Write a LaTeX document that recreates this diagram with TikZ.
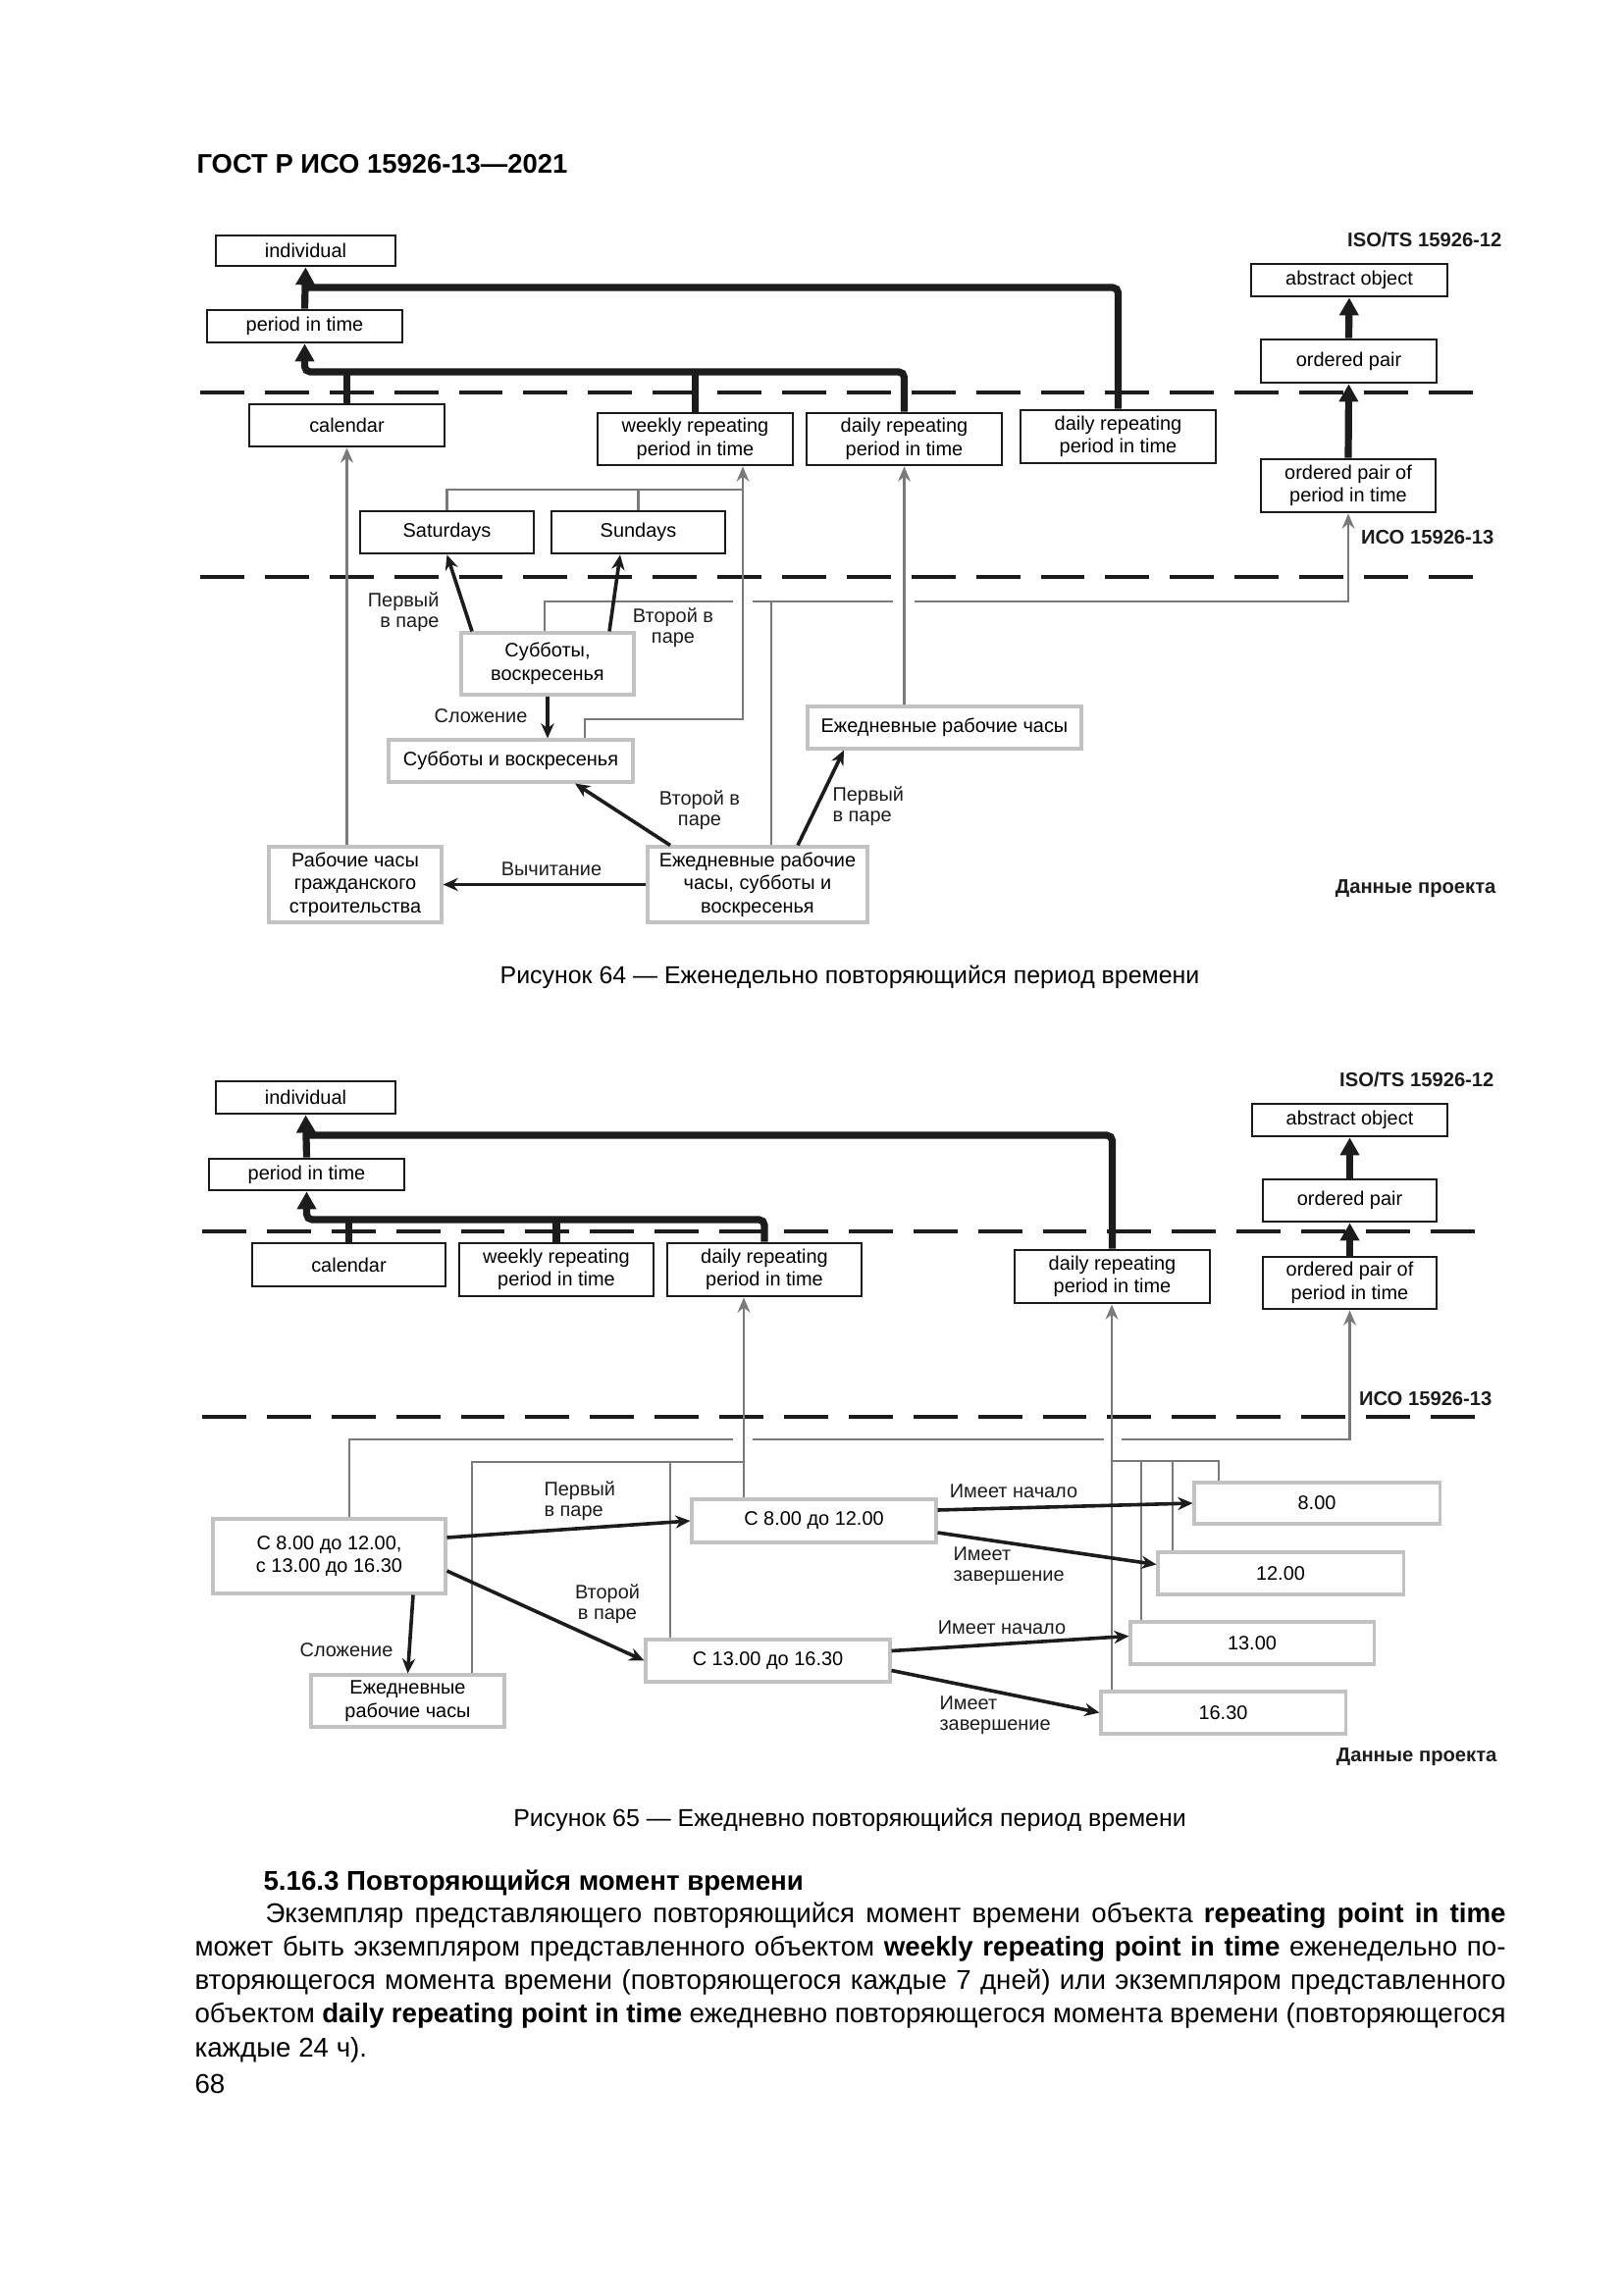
\documentclass[tikz,border=0pt]{standalone}
\usepackage{fontspec}
\setmainfont{Liberation Sans}
\usetikzlibrary{arrows.meta,calc}
\newlength\pxl
\setlength{\pxl}{0.12696mm}
\definecolor{dk}{HTML}{1C1C1C}
\definecolor{mgray}{HTML}{7A7A7A}
\definecolor{lgray}{HTML}{C2C2C2}
\newcommand\dfont{\fontsize{7.2}{8.5}\selectfont}
\newcommand\lfont{\fontsize{7.2}{7.5}\selectfont}
\newcommand\isofont{\fontsize{7.3}{8}\selectfont\bfseries}
\newcommand\hdrfont{\fontsize{9.9}{12}\selectfont\bfseries}
\newcommand\capfont{\fontsize{9.0}{11}\selectfont}
\newcommand\bodyfont{\fontsize{10.0}{12}\selectfont}
\newcommand\jline[2]{\makebox[#1\pxl][s]{\spaceskip=0.2em plus 1em minus 0.05em\relax #2}}
\tikzset{
  sz/.style 2 args={minimum width=#1\pxl, minimum height=#2\pxl},
  bbox/.style={draw=dk, line width=1pt, inner sep=0pt, align=center, font=\dfont, fill=white},
  gbox/.style={draw=lgray, line width=1.1pt, inner sep=0pt, align=center, font=\dfont, fill=white},
  lbl/.style={inner sep=0pt, font=\lfont, text=dk},
  thk/.style={draw=dk, line width=2.6pt, rounded corners=2pt},
  thka/.style={thk, -{Triangle[length=6.5pt,width=6.8pt]}},
  gl/.style={draw=mgray, line width=1.05pt},
  gla/.style={gl, -{Stealth[length=5.5pt,width=4.6pt]}},
  ba/.style={draw=dk, line width=1.3pt, -{Stealth[length=5.5pt,width=4.8pt]}},
  dsh/.style={draw=dk, line width=1.6pt, dash pattern=on 16.2pt off 7.6pt},
  isolbl/.style={inner sep=0pt, font=\isofont, anchor=base east, text=dk},
  captxt/.style={inner sep=0pt, font=\capfont, anchor=base},
  bodytxt/.style={inner sep=0pt, font=\bodyfont, anchor=base west},
}
\begin{document}
\begin{tikzpicture}[x=\pxl, y=-\pxl]
\useasboundingbox (0,0) rectangle (1654,2339);
\fill[white] (0,0) rectangle (1654,2339);

% ---------- header
\node[inner sep=0pt, font=\hdrfont, anchor=base west] (hdr) at (200,177) {ГОСТ Р ИСО 15926-13—2021};

% ================= Figure 64
\draw[dsh] (204,400) -- (1516,400);
\draw[dsh] (204,588) -- (1516,588);

\node[bbox, sz={183}{31}] (ind) at (311.5,255.5) {individual};
\node[bbox, sz={199}{33}] (pit) at (310.5,332.5) {period in time};
\node[bbox, sz={199}{43}] (cal) at (353.5,433.5) {calendar};
\node[bbox, sz={199}{53}] (wk) at (708.5,447.5) {weekly repeating\\period in time};
\node[bbox, sz={199}{53}] (dr1) at (921.5,447.5) {daily repeating\\period in time};
\node[bbox, sz={199}{54}] (dr2) at (1139.5,445) {daily repeating\\period in time};
\node[bbox, sz={200}{33}] (ao) at (1375,285.5) {abstract object};
\node[bbox, sz={179}{44}] (op) at (1374.5,368) {ordered pair};
\node[bbox, sz={178}{54}] (opp) at (1374,495) {ordered pair of\\period in time};
\node[bbox, sz={177}{43}] (sat) at (455.5,542.5) {Saturdays};
\node[bbox, sz={177}{43}] (sun) at (650.5,542.5) {Sundays};
\node[gbox, sz={176}{63}] (ssc) at (558,676.5) {Субботы,\\воскресенья};
\node[gbox, sz={249}{43}] (siv) at (520.5,775.5) {Субботы и воскресенья};
\node[gbox, sz={279}{43}] (edrch) at (962.5,741.5) {Ежедневные рабочие часы};
\node[gbox, sz={224}{77}] (edrss) at (772,901.5) {Ежедневные рабочие\\часы, субботы и\\воскресенья};
\node[gbox, sz={176}{77}] (rab) at (362,901.5) {Рабочие часы\\гражданского\\строительства};

\node[isolbl] (iso1) at (1531,252) {ISO/TS 15926-12};
\node[isolbl] (iso2) at (1523,555) {ИСО 15926-13};
\node[isolbl] (dp1) at (1525,910) {Данные проекта};

\coordinate (jy1) at (0,293);
\coordinate (jy2) at (0,379);
\draw[thka] (pit.north) -- (ind.south);
\draw[thk] (dr2.north) |- (pit.north |- jy1);
\draw[thka] (dr1.north) |- (pit.south |- jy2) -- (pit.south);
\draw[thk] (cal.north) -- (cal.north |- jy2);
\draw[thk] (wk.north) -- (wk.north |- jy2);
\draw[thka] (opp.north) -- (op.south);
\draw[thka] (op.north) -- (ao.south);

% gray connectors
\coordinate (gy1) at (0,499);
\coordinate (gy2) at (0,613);
\coordinate (gy3) at (0,733);
\coordinate (gx1) at (757,0);
\draw[gl] (sat.north) |- (gx1 |- gy1);
\draw[gl] (sun.north) -- (sun.north |- gy1);
\coordinate (s5) at ($(ssc.north)+(-3,0)$);
\draw[gla] (s5) |- (opp.south |- gy2) -- (opp.south);
\coordinate (e6) at ($(edrss.north)+(14,0)$);
\draw[gl] (e6) -- (e6 |- gy2);
\fill[white] (747,607) rectangle (767,619);
\fill[white] (910,607) rectangle (932,619);
\coordinate (s3) at ($(siv.north)+(75.5,0)$);
\draw[gla] (s3) |- (gx1 |- gy3) -- (gx1 |- wk.south);
\draw[gla] (cal.south |- rab.north) -- (cal.south);
\draw[gla] (dr1.south |- edrch.north) -- (dr1.south);

% black arrows
\draw[ba] ($(ssc.north)+(-77,0)$) -- (sat.south);
\draw[ba] ($(ssc.north)+(63,0)$) -- ($(sun.south)+(-18.5,0)$);
\draw[ba] (ssc.south) -- (ssc.south |- siv.north);
\draw[ba] ($(edrss.north)+(-89,0)$) -- ($(siv.south)+(65.5,0)$);
\draw[ba] ($(edrss.north)+(41,0)$) -- ($(edrch.south)+(-102.5,0)$);
\draw[ba] (edrss.west) -- (rab.east);

\node[lbl, align=right, anchor=east] (l1) at (448,623.5) {Первый\\в паре};
\node[lbl, align=center] (l2) at (686,640) {Второй в\\паре};
\node[lbl] (l3) at (490,730) {Сложение};
\node[lbl, align=center] (l4) at (713,826) {Второй в\\паре};
\node[lbl, align=left, anchor=west] (l5) at (848,822) {Первый\\в паре};
\node[lbl] (l6) at (562,886) {Вычитание};

\node[captxt] (cap64) at (866,1002) {Рисунок 64 — Еженедельно повторяющийся период времени};

% ================= Figure 65
\draw[dsh] (206,1255) -- (1517,1255);
\draw[dsh] (206,1444) -- (1517,1444);

\node[bbox, sz={183}{33}] (ind2) at (311.5,1118.5) {individual};
\node[bbox, sz={199}{32}] (pit2) at (312.5,1197) {period in time};
\node[bbox, sz={197}{44}] (cal2) at (355.5,1289) {calendar};
\node[bbox, sz={198}{54}] (wk2) at (567,1294) {weekly repeating\\period in time};
\node[bbox, sz={198}{54}] (dr1b) at (779,1294) {daily repeating\\period in time};
\node[bbox, sz={199}{54}] (dr2b) at (1133.5,1301) {daily repeating\\period in time};
\node[bbox, sz={199}{33}] (ao2) at (1375.5,1141.5) {abstract object};
\node[bbox, sz={177}{43}] (op2) at (1375.5,1223.5) {ordered pair};
\node[bbox, sz={177}{53}] (opp2) at (1375.5,1307.5) {ordered pair of\\period in time};

\node[gbox, sz={237}{76}] (big) at (335.5,1586) {С 8.00 до 12.00,\\с 13.00 до 16.30};
\node[gbox, sz={249}{44}] (c812) at (829.5,1550) {С 8.00 до 12.00};
\node[gbox, sz={249}{43}] (c1316) at (782.5,1692.5) {С 13.00 до 16.30};
\node[gbox, sz={197}{53}] (erc) at (415.5,1733.5) {Ежедневные\\рабочие часы};
\node[gbox, sz={250}{42}] (t800) at (1342,1532) {8.00};
\node[gbox, sz={250}{43}] (t1200) at (1305,1603.5) {12.00};
\node[gbox, sz={248}{43}] (t1300) at (1276,1674.5) {13.00};
\node[gbox, sz={249}{43}] (t1630) at (1246.5,1745.5) {16.30};

\node[isolbl] (iso3) at (1523,1107) {ISO/TS 15926-12};
\node[isolbl] (iso4) at (1521,1432) {ИСО 15926-13};
\node[isolbl] (dp2) at (1526,1795) {Данные проекта};

\coordinate (jy3) at (0,1157);
\coordinate (jy4) at (0,1243);
\draw[thka] (pit2.north) -- (ind2.south);
\draw[thk] (dr2b.north) |- (pit2.north |- jy3);
\draw[thka] (dr1b.north) |- (pit2.south |- jy4) -- (pit2.south);
\draw[thk] (cal2.north) -- (cal2.north |- jy4);
\draw[thk] (wk2.north) -- (wk2.north |- jy4);
\draw[thka] (opp2.north) -- (op2.south);
\draw[thka] (op2.north) -- (ao2.south);

\coordinate (hy1) at (0,1467);
\coordinate (hy2) at (0,1490);
\coordinate (hy3) at (0,1489);
\coordinate (b1) at ($(big.north)+(20.5,0)$);
\draw[gla] (b1) |- (opp2.south |- hy1) -- (opp2.south);
\fill[white] (747,1461) rectangle (767,1473);
\fill[white] (1125,1461) rectangle (1143,1473);
\coordinate (c8) at ($(c812.north)+(-71.5,0)$);
\draw[gla] (c8) -- (c8 |- dr1b.south);
\coordinate (e1) at ($(erc.north)+(65.5,0)$);
\draw[gl] (e1) |- (c8 |- hy2);
\coordinate (e2) at ($(c1316.north)+(-99.5,0)$);
\draw[gl] (e2) -- (e2 |- hy2);
\coordinate (t16) at ($(t1630.north)+(-113.5,0)$);
\draw[gla] (t16) -- (t16 |- dr2b.south);
\coordinate (t8) at ($(t800.north)+(-100,0)$);
\draw[gl] (t8) |- (t16 |- hy3);
\coordinate (t13) at ($(t1300.north)+(-113,0)$);
\draw[gl] (t13) -- (t13 |- hy3);
\coordinate (t12) at ($(t1200.north)+(-110,0)$);
\draw[gl] (t12) -- (t12 |- hy3);

\draw[ba] ($(big.east)+(0,-19)$) -- (c812.west);
\draw[ba] ($(big.east)+(0,15)$) -- (c1316.west);
\draw[ba] ($(big.south)+(85.5,0)$) -- (erc.north);
\draw[ba] ($(c812.east)+(0,-11)$) -- (t800.west);
\draw[ba] ($(c812.east)+(0,12)$) -- ($(t1200.west)+(0,-9)$);
\draw[ba] ($(c1316.east)+(0,-10)$) -- ($(t1300.west)+(0,-7)$);
\draw[ba] ($(c1316.east)+(0,10)$) -- (t1630.west);

\node[lbl, align=left, anchor=west] (m1) at (554,1530) {Первый\\в паре};
\node[lbl, align=center] (m2) at (619,1635) {Второй\\в паре};
\node[lbl] (m3) at (353,1682) {Сложение};
\node[lbl] (m4) at (1033,1520) {Имеет начало};
\node[lbl, align=left, anchor=west] (m5) at (971,1596) {Имеет\\завершение};
\node[lbl] (m6) at (1021,1659) {Имеет начало};
\node[lbl, align=left, anchor=west] (m7) at (957,1748) {Имеет\\завершение};

\node[captxt] (cap65) at (866,1861) {Рисунок 65 — Ежедневно повторяющийся период времени};

% ================= text
\node[bodytxt, font=\bodyfont\bfseries] (h5) at (268,1926) {5.16.3 Повторяющийся момент времени};
\node[bodytxt] (p1) at (270,1959) {\jline{1264}{Экземпляр представляющего повторяющийся момент времени объекта \textbf{repeating point in time}}};
\node[bodytxt] (p2) at (198,1993) {\jline{1336}{может быть экземпляром представленного объектом \textbf{weekly repeating point in time} еженедельно по-}};
\node[bodytxt] (p3) at (198,2027) {\jline{1336}{вторяющегося момента времени (повторяющегося каждые 7 дней) или экземпляром представленного}};
\node[bodytxt] (p4) at (198,2061) {\jline{1336}{объектом \textbf{daily repeating point in time} ежедневно повторяющегося момента времени (повторяющегося}};
\node[bodytxt] (p5) at (198,2096) {каждые 24 ч).};
\node[bodytxt] (pg) at (198,2133) {68};
\end{tikzpicture}
\end{document}
